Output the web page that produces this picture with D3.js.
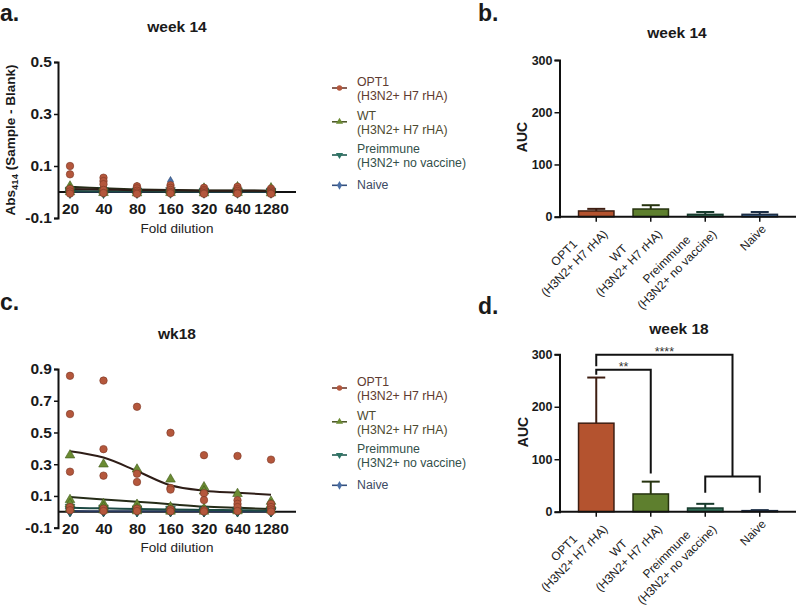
<!DOCTYPE html>
<html><head><meta charset="utf-8">
<script src="https://cdn.jsdelivr.net/npm/d3@7"></script>
<style>
html,body{margin:0;padding:0;background:#fff;}
svg{display:block;font-family:"Liberation Sans",Arial,Helvetica,sans-serif;}
</style></head>
<body>
<svg id="fig" width="800" height="606"></svg>
<script>
// ---------------- DATA ----------------
const dilutions = ["20","40","80","160","320","640","1280"];
const groupNames = ["OPT1","WT","Preimmune","Naive"];
const groupSubs = ["(H3N2+ H7 rHA)","(H3N2+ H7 rHA)","(H3N2+ no vaccine)",""];

// week 14 replicate absorbances (per dilution)
const wk14OPT1 = [[0.100,0.068,0.012,0.002,-0.006],[0.055,0.042,0.030,0.008,-0.004],[0.022,0.014,0.005,-0.002,-0.007],[0.026,0.016,0.008,0.000,-0.005],[0.016,0.008,0.002,-0.004,-0.007],[0.020,0.011,0.004,-0.003,-0.006],[0.013,0.006,0.001,-0.004,-0.007]];
const wk14WT   = [[0.022,0.010,0.000],[0.018,0.006,-0.003],[0.016,0.004,-0.004],[0.013,0.004,-0.003],[0.014,0.003,-0.004],[0.019,0.004,-0.003],[0.015,0.003,-0.004]];
const wk14Pre  = [[0.008,0.002,-0.004],[0.006,0.000,-0.004],[0.005,0.000,-0.004],[0.006,0.000,-0.003],[0.004,0.000,-0.003],[0.005,0.000,-0.003],[0.004,0.000,-0.003]];
const wk14Naive= [[0.004,-0.002],[0.003,-0.002],[0.003,-0.003],[0.040,0.000],[0.002,-0.002],[0.002,-0.002],[0.002,-0.002]];
const wk14LineOPT1 = [0.012,0.010,0.007,0.007,0.005,0.005,0.004];
const wk14LineWT   = [0.020,0.014,0.010,0.008,0.006,0.006,0.005];
const wk14LinePre  = [0.004,0.003,0.003,0.002,0.002,0.002,0.002];
const wk14LineNaive= [0.001,0.001,0.001,0.003,0.001,0.001,0.001];

// week 18 replicate absorbances
const wk18OPT1 = [[0.857,0.616,0.253,0.030,0.010],[0.827,0.395,0.228,0.020,0.005],[0.662,0.240,0.188,0.020,0.005],[0.498,0.150,0.140,0.015,0.003],[0.357,0.117,0.074,0.010,0.002],[0.352,0.073,0.050,0.030,0.005],[0.329,0.050,0.030,0.015,0.002]];
const wk18WT   = [[0.357,0.076,0.050,0.020],[0.300,0.050,0.030,0.010],[0.268,0.046,0.020,0.005],[0.205,0.030,0.010,0.003],[0.156,0.130,0.020,0.003],[0.114,0.020,0.005],[0.065,0.045,0.010]];
const wk18Pre  = [[0.030,0.015,0.005],[0.025,0.012,0.004],[0.020,0.010,0.003],[0.018,0.008,0.003],[0.015,0.006,0.002],[0.012,0.005,0.002],[0.010,0.004,0.002]];
const wk18Naive= [[0.006,0.000],[0.005,0.000],[0.004,0.000],[0.004,0.000],[0.003,0.000],[0.003,0.000],[0.002,0.000]];
const wk18LineOPT1 = [0.382,0.342,0.257,0.167,0.133,0.120,0.108];
const wk18LineWT   = [0.093,0.078,0.064,0.048,0.033,0.025,0.018];
const wk18LinePre  = [0.025,0.022,0.018,0.015,0.012,0.010,0.008];
const wk18LineNaive= [0.005,0.004,0.004,0.003,0.003,0.002,0.002];

// AUC bars
const aucWk14Mean = [11, 14.7, 4.5, 4.5];
const aucWk14SD   = [4, 7.3, 4.5, 4.5];
const aucWk18Mean = [168.7, 33.8, 7, 2];
const aucWk18SD   = [87, 23.5, 8, 1];

const yTicksWk14 = [-0.1, 0.1, 0.3, 0.5];
const yTicksWk18 = [-0.1, 0.1, 0.3, 0.5, 0.7, 0.9];
const aucTicks = [0, 100, 200, 300];

// ---------------- STYLE ----------------
const markerFill = ["#b4573c","#6b8b33","#2e7565","#4a6fa5"];
const markerStroke = ["#7a3524","#3f5a1a","#1b4a40","#2a4570"];
const lineCol = ["#2e1d17","#262c18","#1d4a44","#25365a"];
const legendLineCol = ["#6e3a2c","#4f5a2a","#1f5a50","#34507e"];
const legendTextCol = ["#5e3b30","#4d4a30","#33504a","#3d4a63"];
const barFill = ["#b4532f","#5e7f2e","#2f6c55","#3f6797"];
const barStroke = ["#3e1e12","#26330f","#173a2c","#1c2e45"];

const svg = d3.select("#fig");
const FONT_TXT = "#1a1a1a";

function symbolFor(i){
  return [d3.symbolCircle, d3.symbolTriangle, d3.symbolTriangle, d3.symbolDiamond][i];
}
function symbolRot(i){ return i===2 ? 180 : 0; }
function symbolSize(i){ return [44, 40, 40, 30][i]; }

// ---------------- SCATTER PANEL ----------------
function scatterPanel(opt){
  const g = svg.append("g");
  const x = d3.scalePoint().domain(dilutions).range([70, 271]);
  const y = d3.scaleLinear().domain(opt.yDomain).range(opt.yRange);
  const y0 = y(0);

  g.append("text").attr("x", 177).attr("y", opt.titleY).attr("text-anchor","middle")
    .attr("font-size", 15.5).attr("font-weight","bold").attr("fill",FONT_TXT).text(opt.title);

  const ya = d3.axisLeft(y).tickValues(opt.yTicks).tickSize(4).tickPadding(2)
     .tickFormat(d => d3.format(".1f")(d).replace("−","-"));
  const yg = g.append("g").attr("transform","translate(58,0)").call(ya);
  yg.select(".domain").attr("stroke","#111").attr("stroke-width",2);
  yg.selectAll(".tick line").attr("stroke","#111").attr("stroke-width",1.5);
  yg.selectAll(".tick text").attr("font-size",15.5).attr("font-weight","bold")
    .attr("fill",FONT_TXT).attr("font-family","Liberation Sans, Arial, sans-serif");

  const xa = d3.axisBottom(x).tickSize(4).tickPadding(0);
  const xg = g.append("g").attr("transform",`translate(0,${y0})`).call(xa);
  xg.select(".domain").remove();
  xg.append("line").attr("x1",58).attr("x2",296).attr("y1",0).attr("y2",0)
    .attr("stroke","#111").attr("stroke-width",2);
  xg.selectAll(".tick line").attr("stroke","#111").attr("stroke-width",1.5);
  xg.selectAll(".tick text").attr("font-size",15.5).attr("font-weight","bold")
    .attr("fill",FONT_TXT).attr("font-family","Liberation Sans, Arial, sans-serif")
    .attr("dy",null).attr("y",22);

  g.append("text").attr("x",177).attr("y",opt.xLabelY).attr("text-anchor","middle")
    .attr("font-size",13.5).attr("fill","#222").text("Fold dilution");

  if (opt.yLabel){
    const t = g.append("text").attr("transform",`translate(15,${opt.yLabelCenter}) rotate(-90)`)
      .attr("text-anchor","middle").attr("font-size",13.5).attr("font-weight","bold").attr("fill",FONT_TXT);
    t.append("tspan").text("Abs");
    t.append("tspan").attr("font-size",9.5).attr("dy",3).text("414");
    t.append("tspan").attr("dy",-3).text(" (Sample - Blank)");
  }

  const line = d3.line().x((d,i)=>x(dilutions[i])).y(d=>y(d)).curve(d3.curveCatmullRom.alpha(0.5));
  [3,2,1,0].forEach(gi=>{
    g.append("path").datum(opt.lines[gi]).attr("d",line).attr("fill","none")
      .attr("stroke",lineCol[gi]).attr("stroke-width",2);
  });
  [3,2,1,0].forEach(gi=>{
    const pts = [];
    opt.points[gi].forEach((arr,di)=>arr.forEach(v=>pts.push({d:dilutions[di],v})));
    g.selectAll(null).data(pts).enter().append("path")
      .attr("d", d3.symbol().type(symbolFor(gi)).size(symbolSize(gi)))
      .attr("transform", d=>`translate(${x(d.d)},${y(d.v)}) rotate(${symbolRot(gi)})`)
      .attr("fill", markerFill[gi]).attr("stroke", markerStroke[gi]).attr("stroke-width",0.6);
  });

  // legend
  const lg = g.append("g");
  opt.legendBase.forEach((b,gi)=>{
    const two = groupSubs[gi] !== "";
    const my = two ? b + 1.5 : b - 4;
    lg.append("line").attr("x1",332).attr("x2",347).attr("y1",my).attr("y2",my)
      .attr("stroke",legendLineCol[gi]).attr("stroke-width",1.6);
    lg.append("path").attr("d", d3.symbol().type(symbolFor(gi)).size(22)())
      .attr("transform",`translate(339.5,${my}) rotate(${symbolRot(gi)})`)
      .attr("fill",markerFill[gi]);
    lg.append("text").attr("x",357).attr("y",two ? b - 0.5 : b).attr("font-size",12.3)
      .attr("fill",legendTextCol[gi]).text(groupNames[gi]);
    if (two) lg.append("text").attr("x",357).attr("y",b+13.6).attr("font-size",12.3)
      .attr("fill",legendTextCol[gi]).text(groupSubs[gi]);
  });
}

scatterPanel({
  title:"week 14", titleY:32, yDomain:[-0.1,0.5], yRange:[218,62], yTicks:yTicksWk14,
  xLabelY:233, yLabel:true, yLabelCenter:140,
  points:[wk14OPT1,wk14WT,wk14Pre,wk14Naive],
  lines:[wk14LineOPT1,wk14LineWT,wk14LinePre,wk14LineNaive],
  legendBase:[86.5,120.3,153.5,189.3]
});
scatterPanel({
  title:"wk18", titleY:339, yDomain:[-0.1,0.9], yRange:[527.7,369], yTicks:yTicksWk18,
  xLabelY:552, yLabel:false,
  points:[wk18OPT1,wk18WT,wk18Pre,wk18Naive],
  lines:[wk18LineOPT1,wk18LineWT,wk18LinePre,wk18LineNaive],
  legendBase:[386.5,420.3,453.5,489.3]
});

// ---------------- BAR PANEL ----------------
function barPanel(opt){
  const g = svg.append("g");
  const x = d3.scaleBand().domain(groupNames).range([569,787]).paddingInner(0.35).paddingOuter(0.175);
  const y = d3.scaleLinear().domain([0,300]).range(opt.yRange);

  g.append("text").attr("x",opt.titleX).attr("y",opt.titleY).attr("text-anchor","middle")
    .attr("font-size",15.5).attr("font-weight","bold").attr("fill",FONT_TXT).text(opt.title);

  const ya = d3.axisLeft(y).tickValues(aucTicks).tickSize(5).tickPadding(2);
  const yg = g.append("g").attr("transform","translate(559.5,0)").call(ya);
  yg.select(".domain").attr("stroke","#111").attr("stroke-width",2);
  yg.selectAll(".tick line").attr("stroke","#111").attr("stroke-width",1.5);
  yg.selectAll(".tick text").attr("font-size",12.5).attr("font-weight","bold")
    .attr("fill",FONT_TXT).attr("font-family","Liberation Sans, Arial, sans-serif");

  g.append("text").attr("transform",`translate(${opt.aucX},${opt.aucY}) rotate(-90)`)
    .attr("text-anchor","middle").attr("font-size",14).attr("font-weight","bold")
    .attr("fill",FONT_TXT).text("AUC");

  groupNames.forEach((n,i)=>{
    const m = opt.mean[i], s = opt.sd[i];
    const cx = x(n) + x.bandwidth()/2;
    g.append("line").attr("x1",cx).attr("x2",cx).attr("y1",y(m)).attr("y2",y(m+s))
      .attr("stroke",barStroke[i]).attr("stroke-width",2);
    g.append("line").attr("x1",cx-9).attr("x2",cx+9).attr("y1",y(m+s)).attr("y2",y(m+s))
      .attr("stroke",barStroke[i]).attr("stroke-width",2);
    g.append("rect").attr("x",x(n)).attr("width",x.bandwidth())
      .attr("y",y(m)).attr("height",y(0)-y(m))
      .attr("fill",barFill[i]).attr("stroke",barStroke[i]).attr("stroke-width",1.5);
  });

  const xa = d3.axisBottom(x).tickSize(5).tickFormat("");
  const xg = g.append("g").attr("transform",`translate(0,${y(0)})`).call(xa);
  xg.select(".domain").remove();
  xg.append("line").attr("x1",559.5).attr("x2",796).attr("stroke","#111").attr("stroke-width",2);
  xg.selectAll(".tick line").attr("stroke","#111").attr("stroke-width",1.5);

  // rotated, centre-aligned multi-line category labels; block right edge at the tick
  groupNames.forEach((n,i)=>{
    const cx = x(n) + x.bandwidth()/2;
    const lg = g.append("g").attr("transform",`translate(${cx+4},${y(0)+10}) rotate(-45)`);
    const lines = groupSubs[i] ? [n, groupSubs[i]] : [n];
    const ts = lines.map((s,k)=> lg.append("text").attr("font-size",12).attr("fill","#222")
      .attr("text-anchor","middle")
      .attr("y", 4.3 + (k - (lines.length-1)/2) * 14.5).text(s));
    const w = d3.max(ts, t=>t.node().getComputedTextLength());
    ts.forEach(t=>t.attr("x",-w/2));
  });

  if (opt.brackets){
    const cxs = groupNames.map(n=>x(n)+x.bandwidth()/2);
    const bg = g.append("g").attr("fill","none").attr("stroke","#111").attr("stroke-width",2);
    const rightX = (cxs[2]+cxs[3])/2;
    bg.append("path").attr("d",`M${cxs[0]},${y(277)}V${y(299)}H${rightX}V${y(67)}`);
    bg.append("path").attr("d",`M${cxs[2]},${y(36)}V${y(67)}H${cxs[3]}V${y(36)}`);
    bg.append("path").attr("d",`M${cxs[0]},${y(261)}V${y(270.5)}H${cxs[1]}V${y(73)}`);
    g.append("text").attr("x",(cxs[0]+rightX)/2).attr("y",y(299)+1).attr("text-anchor","middle")
      .attr("font-size",12.5).attr("fill","#333").text("****");
    g.append("text").attr("x",(cxs[0]+cxs[1])/2).attr("y",y(270.5)+1).attr("text-anchor","middle")
      .attr("font-size",12.5).attr("fill","#333").text("**");
  }
}

barPanel({title:"week 14", titleX:677, titleY:38, yRange:[216.7,60], aucX:527, aucY:137,
  mean:aucWk14Mean, sd:aucWk14SD, brackets:false});
barPanel({title:"week 18", titleX:679, titleY:333.5, yRange:[511.7,354.3], aucX:528, aucY:432,
  mean:aucWk18Mean, sd:aucWk18SD, brackets:true});

// panel letters
[["a.",0,20.5],["b.",478,21],["c.",0,310],["d.",478,314]].forEach(([t,px,py])=>{
  svg.append("text").attr("x",px).attr("y",py).attr("font-size",23).attr("font-weight","bold")
    .attr("fill",FONT_TXT).text(t);
});
</script>
</body></html>
